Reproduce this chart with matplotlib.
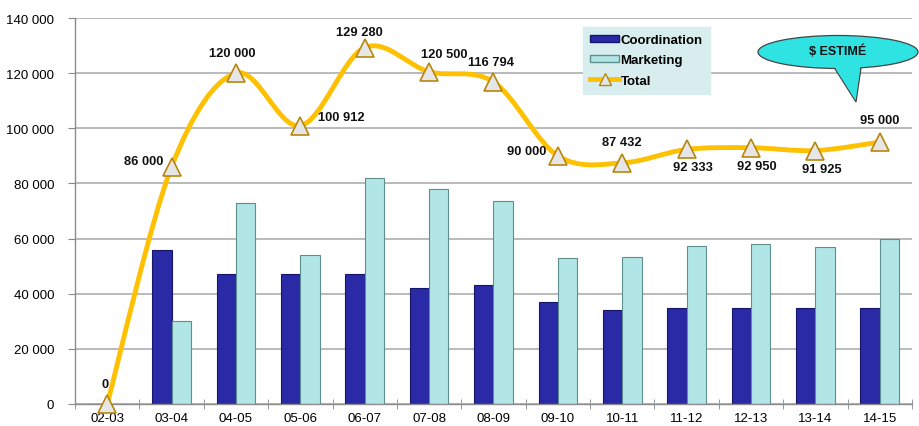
#!/usr/bin/env python3
"""
Coordination / Marketing bars with smoothed Total line.
"""

import matplotlib
matplotlib.use('Agg')
import matplotlib.pyplot as plt
from matplotlib.path import Path
from matplotlib.patches import PathPatch, Ellipse, Polygon, Patch
from matplotlib.lines import Line2D
from matplotlib.ticker import FuncFormatter, MultipleLocator

plt.rcParams['font.family'] = ['Liberation Sans', 'DejaVu Sans']

# Data
years = ['02-03', '03-04', '04-05', '05-06', '06-07', '07-08', '08-09',
         '09-10', '10-11', '11-12', '12-13', '13-14', '14-15']
coordination = [0, 56000, 47000, 47000, 47000, 42000, 43000,
                37000, 34000, 35000, 35000, 35000, 35000]
marketing = [0, 30000, 73000, 54000, 82000, 78000, 73500,
             53000, 53300, 57300, 58000, 57000, 60000]
total = [0, 86000, 120000, 100912, 129280, 120500, 116794,
         90000, 87432, 92333, 92950, 91925, 95000]

# Label offsets in pixels (dx, dy, ha) for the total values
label_pos = [(-2, 20, 'center'), (-8, 6, 'right'), (-4, 20, 'center'),
             (18, 9, 'left'), (-5, 16, 'center'), (15, 18, 'center'),
             (-2, 20, 'center'), (-12, 5, 'right'), (0, 21, 'center'),
             (6, -18, 'center'), (6, -18, 'center'), (6, -18, 'center'),
             (0, 22, 'center')]

COORD_COLOR = '#2a2aa6'
COORD_EDGE = '#15156a'
MARK_COLOR = '#b2e5e5'
MARK_EDGE = '#5e8e8e'
LINE_COLOR = '#ffc000'
GRID_COLOR = '#b4b4b4'

W, H = 920, 427
fig = plt.figure(figsize=(W / 100, H / 100), dpi=100)
ax = fig.add_axes([75 / W, 1 - 405 / H, (912 - 75) / W, (405 - 19) / H])

x = list(range(len(years)))
bw = 0.3
ax.bar([i - bw / 2 for i in x], coordination, bw, color=COORD_COLOR,
       edgecolor=COORD_EDGE, linewidth=0.8, zorder=2)
ax.bar([i + bw / 2 for i in x], marketing, bw, color=MARK_COLOR,
       edgecolor=MARK_EDGE, linewidth=0.8, zorder=2)

# Smoothed total line (Catmull-Rom as cubic Bezier, like Excel smoothing)
pts = list(zip(x, total))
verts = [pts[0]]
codes = [Path.MOVETO]
n = len(pts)
for i in range(n - 1):
    p0 = pts[max(i - 1, 0)]
    p1 = pts[i]
    p2 = pts[i + 1]
    p3 = pts[min(i + 2, n - 1)]
    c1 = (p1[0] + (p2[0] - p0[0]) / 6, p1[1] + (p2[1] - p0[1]) / 6)
    c2 = (p2[0] - (p3[0] - p1[0]) / 6, p2[1] - (p3[1] - p1[1]) / 6)
    verts += [c1, c2, p2]
    codes += [Path.CURVE4] * 3
ax.add_patch(PathPatch(Path(verts, codes), facecolor='none',
                       edgecolor=LINE_COLOR, lw=3.5, zorder=3,
                       capstyle='round', joinstyle='round'))
ax.plot(x, total, linestyle='none', marker='^', markersize=13,
        markerfacecolor='#e6e6e6', markeredgecolor='#b8860b',
        markeredgewidth=1.2, zorder=4, clip_on=False)

for i, v in enumerate(total):
    dx, dy, ha = label_pos[i]
    ax.annotate(f"{v:,}".replace(',', ' '), (i, v),
                xytext=(dx * 0.72, dy * 0.72), textcoords='offset points',
                ha=ha, va='center', fontsize=9.3, fontweight='bold',
                color='#111111', zorder=5)

# Axes styling
ax.set_xlim(-0.5, 12.5)
ax.set_ylim(0, 140000)
ax.yaxis.set_major_locator(MultipleLocator(20000))
ax.yaxis.set_major_formatter(FuncFormatter(
    lambda v, p: f"{int(v):,}".replace(',', ' ')))
ax.set_xticks(x)
ax.set_xticklabels(years)
ax.set_xticks([i + 0.5 for i in range(-1, 13)], minor=True)
ax.tick_params(axis='x', which='major', length=0, pad=6, labelsize=9.5)
ax.tick_params(axis='x', which='minor', length=7, direction='inout',
               color='#888888')
ax.tick_params(axis='y', length=5, color='#888888', labelsize=9.5, pad=10)
ax.grid(axis='y', color=GRID_COLOR, lw=1.3, zorder=0)
ax.set_axisbelow(True)
for s in ['top', 'right']:
    ax.spines[s].set_visible(False)
for s in ['left', 'bottom']:
    ax.spines[s].set_color('#8c8c8c')
    ax.spines[s].set_linewidth(1.0)

# Legend
handles = [Patch(facecolor=COORD_COLOR, edgecolor=COORD_EDGE),
           Patch(facecolor=MARK_COLOR, edgecolor=MARK_EDGE),
           Line2D([], [], color=LINE_COLOR, lw=3.5, marker='^', markersize=9,
                  markerfacecolor='#e6e6e6', markeredgecolor='#b8860b')]
leg = fig.legend(handles, ['Coordination', 'Marketing', 'Total'],
                 loc='upper left', bbox_to_anchor=(583 / W, 1 - 28 / H),
                 frameon=True, fancybox=False, framealpha=1,
                 facecolor='#d8eded', edgecolor='#d8eded',
                 prop={'weight': 'bold', 'size': 9.5},
                 handlelength=2.2, handleheight=0.45, handletextpad=0.1,
                 labelspacing=0.62, borderpad=0.55, borderaxespad=0)
leg.set_zorder(6)

# "$ ESTIMÉ" callout, drawn in pixel space
ov = fig.add_axes([0, 0, 1, 1], facecolor='none')
ov.set_xlim(0, W)
ov.set_ylim(H, 0)
ov.axis('off')
ov.add_patch(Polygon([(830, 62), (862, 62), (856, 103)], closed=True,
                     facecolor='#2fe3e3', edgecolor='#444444', lw=0.9))
ov.add_patch(Ellipse((838, 53), 160, 33, facecolor='#2fe3e3',
                     edgecolor='#444444', lw=0.9))
ov.add_patch(Polygon([(831, 62), (861, 62), (855.5, 101)], closed=True,
                     facecolor='#2fe3e3', edgecolor='none'))
ov.text(838, 51, '$ ESTIMÉ', ha='center', va='center', fontsize=9,
        fontweight='bold', color='#111111')

fig.savefig('out.png', dpi=100)
